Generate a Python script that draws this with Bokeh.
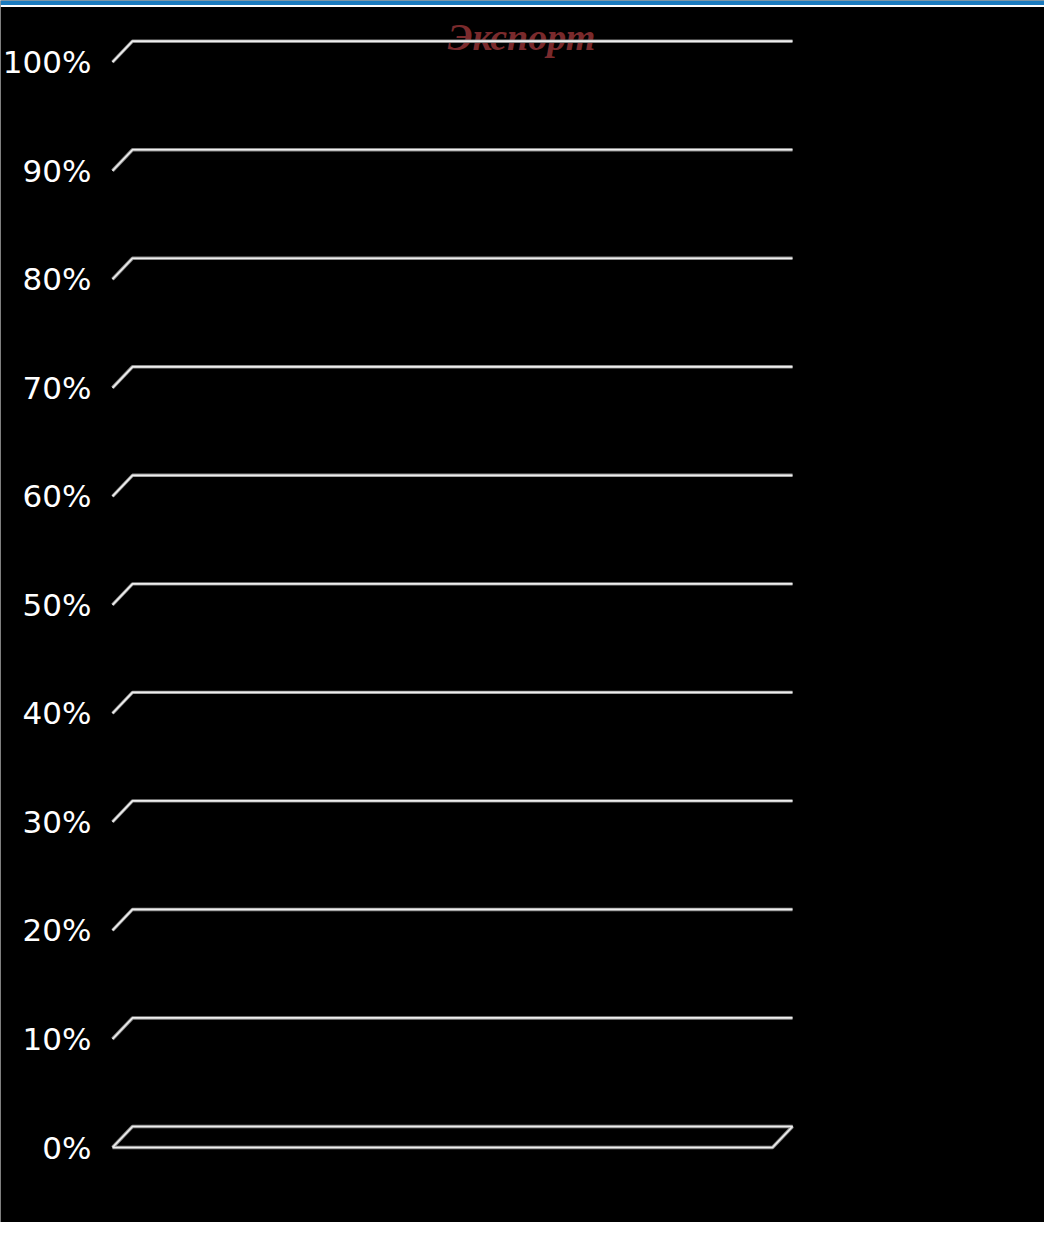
from bokeh.plotting import figure
from bokeh.models import Range1d, BoxAnnotation
from bokeh.core.properties import value
from bokeh.embed import file_html
from bokeh.resources import INLINE

# ---- data ----
title_text = "Экспорт"
tick_values = [0, 10, 20, 30, 40, 50, 60, 70, 80, 90, 100]
tick_labels = ["0%", "10%", "20%", "30%", "40%", "50%", "60%", "70%", "80%", "90%", "100%"]
categories = []          # the chart has no bars
series_values = []

# ---- layout (pixels inside the figure) ----
W, H = 1044, 1222
FX0, FX1 = 112, 772          # front face left / right
FY0, FY100 = 1147.0, 61.7    # front y of 0% and 100%
DXP, DYP = 20.0, 21.0        # 3D depth offset in px

ppx = FX1 - FX0              # px per x unit (x: 0..1 = front face)
ppy = (FY0 - FY100) / 100.0  # px per percent

def xd(px):
    return (px - FX0) / ppx

def yd(py):
    return (FY0 - py) / ppy

dx = DXP / ppx
dy = DYP / ppy

p = figure(width=W, height=H, output_backend="svg", toolbar_location=None,
           x_range=Range1d(xd(0), xd(W)), y_range=Range1d(yd(H), yd(0)),
           min_border=0, min_border_left=0, min_border_right=0,
           min_border_top=0, min_border_bottom=0)
p.background_fill_color = "#000000"
p.border_fill_color = "#000000"
p.outline_line_color = None
p.axis.visible = False
p.grid.visible = False

# top blue strip + thin white line
p.add_layout(BoxAnnotation(bottom=yd(6.5), top=yd(0), fill_color="#ffffff", fill_alpha=1, line_color=None))
p.add_layout(BoxAnnotation(bottom=yd(4.5), top=yd(0), fill_color="#1b7bbf", fill_alpha=1, line_color=None))

# title (drawn below the gridlines, as in the original)
p.text(x=[xd(521)], y=[yd(36)], text=[title_text],
       text_color="#7a2a2c", text_font=value("Liberation Serif"),
       text_font_style="bold italic", text_font_size="38px",
       text_align="center", text_baseline="alphabetic")

# gridlines: left-wall diagonal + back horizontal line
xs, ys = [], []
for t in tick_values:
    if t == 0:
        xs.append([0, 1, 1 + dx, dx, 0])
        ys.append([t, t, t + dy, t + dy, t])
    else:
        xs.append([0, dx, 1 + dx])
        ys.append([t, t + dy, t + dy])

p.multi_line(xs, ys, line_color="#8a8a8a", line_width=3.4)
p.multi_line(xs, ys, line_color="#eeeeee", line_width=1.7)

# y tick labels
p.text(x=[xd(91)] * len(tick_values), y=tick_values, text=tick_labels,
       text_color="#ffffff", text_font=value("DejaVu Sans"), text_font_size="31px",
       text_align="right", text_baseline="middle")

open("out.html", "w").write(file_html(p, INLINE))
